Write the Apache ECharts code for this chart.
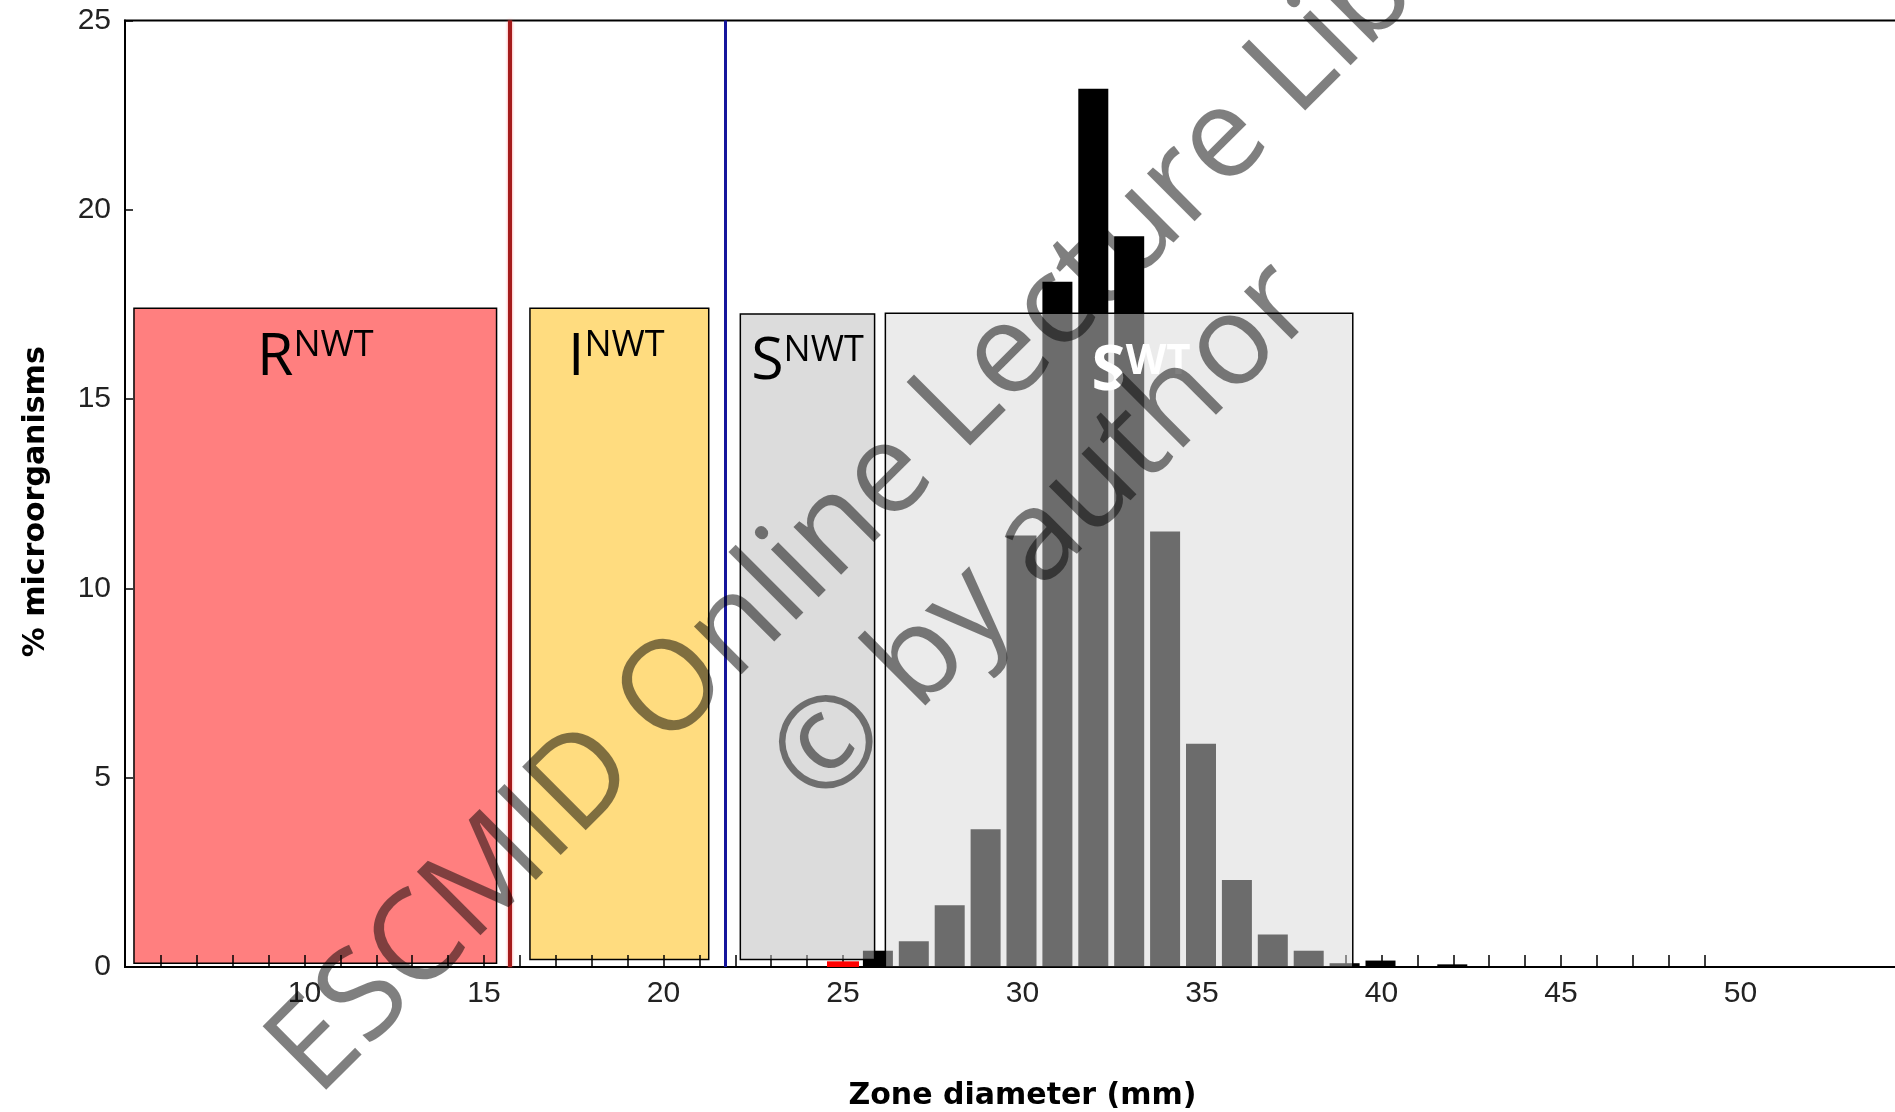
<!DOCTYPE html>
<html>
<head>
<meta charset="utf-8">
<title>Zone diameter distribution</title>
<script src="https://cdn.jsdelivr.net/npm/echarts@6.0.0/dist/echarts.min.js"></script>
<style>
  html, body { margin: 0; padding: 0; background: #fff; }
  #chart { width: 1895px; height: 1112px; }
</style>
</head>
<body>
<div id="chart"></div>
<script>
// histogram: zone diameter (mm) -> % of microorganisms
const diameters = [26, 27, 28, 29, 30, 31, 32, 33, 34, 35, 36, 37, 38, 39, 40, 42]
const percents = [0.43, 0.68, 1.63, 3.64, 11.4, 18.1, 23.2, 19.3, 11.5, 5.9, 2.3, 0.86, 0.43, 0.1, 0.17, 0.07]
const redDiameters = [25]
const redPercents = [0.15]

// breakpoint lines (mm)
const breakpointR = 15.75
const breakpointS = 21.75

// interpretation boxes
const boxNames = ['R', 'I', 'S', 'S']
const boxSups = ['NWT', 'NWT', 'NWT', 'WT']
const boxFrom = [5.25, 16.28, 22.14, 26.18]
const boxTo = [15.35, 21.26, 25.88, 39.2]
const boxBottom = [0.1, 0.2, 0.2, 0]
const boxTop = [17.4, 17.4, 17.25, 17.27]

// axis ticks
const xTickLabels = [10, 15, 20, 25, 30, 35, 40, 45, 50]
const xTicks = [6, 7, 8, 9, 10, 11, 12, 13, 14, 15, 16, 17, 18, 19, 20, 21, 22, 23, 24, 25, 26, 27,
  28, 29, 30, 31, 32, 33, 34, 35, 36, 37, 38, 39, 40, 41, 42, 43, 44, 45, 46, 47, 48, 49]

// box styles
const boxFill = ['#ff7f7f', '#ffdc7f', 'rgba(189,189,189,0.53)', 'rgba(215,215,215,0.5)']
const labelShift = [0, -3, 0, 22]
const labelTop = [20, 20, 19, 28]

const richNormal = {
  m: { fontFamily: 'Open Sans', fontSize: 59, fill: '#000', verticalAlign: 'top' },
  s: { fontFamily: 'Open Sans', fontSize: 36, fill: '#000', verticalAlign: 'top' }
}
const richBold = {
  m: { fontFamily: 'Open Sans', fontWeight: 'bold', fontSize: 62, fill: '#fff', verticalAlign: 'top' },
  s: { fontFamily: 'Open Sans', fontWeight: 'bold', fontSize: 42, fill: '#fff', verticalAlign: 'top' }
}

function renderBox(params, api) {
  const i = api.value(4)
  const lt = api.coord([api.value(0), api.value(3)])
  const rb = api.coord([api.value(1), api.value(2)])
  return {
    type: 'group',
    children: [
      {
        type: 'rect',
        shape: { x: lt[0], y: lt[1], width: rb[0] - lt[0], height: rb[1] - lt[1] },
        style: { fill: boxFill[i], stroke: '#000', lineWidth: 1.5 }
      },
      {
        type: 'text',
        x: (lt[0] + rb[0]) / 2 + labelShift[i],
        y: lt[1] + labelTop[i],
        style: {
          text: '{m|' + boxNames[i] + '}{s|' + boxSups[i] + '}',
          align: 'center',
          verticalAlign: 'top',
          rich: boxSups[i] === 'WT' ? richBold : richNormal
        }
      }
    ]
  }
}

function boxData(list) {
  return list.map(i => [boxFrom[i], boxTo[i], boxBottom[i], boxTop[i], i])
}

const chart = echarts.init(document.getElementById('chart'))
chart.setOption({
  animation: false,
  grid: {
    left: 125,
    top: 20.5,
    width: 1795,
    height: 946.5,
    show: true,
    borderColor: '#000',
    borderWidth: 2,
    outerBoundsMode: 'none'
  },
  xAxis: {
    type: 'value',
    min: 5,
    max: 55,
    z: 1.5,
    name: 'Zone diameter (mm)',
    nameLocation: 'middle',
    nameGap: 114,
    nameTextStyle: { fontFamily: 'DejaVu Sans', fontWeight: 'bold', fontSize: 30, color: '#000' },
    axisLine: { lineStyle: { color: '#000', width: 2 } },
    axisTick: { show: true, inside: true, length: 12, customValues: xTicks, lineStyle: { color: '#000', width: 1.5 } },
    axisLabel: { customValues: xTickLabels, margin: 12, fontFamily: 'Liberation Sans', fontSize: 30, color: '#222' },
    splitLine: { show: false }
  },
  yAxis: {
    type: 'value',
    min: 0,
    max: 25,
    interval: 5,
    z: 1.5,
    name: '% microorganisms',
    nameLocation: 'middle',
    nameGap: 74,
    nameRotate: 90,
    nameTextStyle: { fontFamily: 'DejaVu Sans', fontWeight: 'bold', fontSize: 30, color: '#000', padding: [0, 16, 0, 0] },
    axisLine: { show: true, lineStyle: { color: '#000', width: 2 } },
    axisTick: { show: true, inside: true, length: 8, lineStyle: { color: '#000', width: 1.5 } },
    axisLabel: { margin: 14, fontFamily: 'Liberation Sans', fontSize: 30, color: '#222' },
    splitLine: { show: false }
  },
  series: [
    {
      name: 'boxes',
      type: 'custom',
      z: 1,
      renderItem: renderBox,
      encode: { x: [0, 1], y: [2, 3] },
      data: boxData([0, 1])
    },
    {
      name: 'isolates',
      type: 'bar',
      z: 2,
      barWidth: 30,
      barGap: '-100%',
      itemStyle: { color: '#000' },
      data: diameters.map((d, i) => [d, percents[i]]),
      markLine: {
        silent: true,
        symbol: ['none', 'none'],
        label: { show: false },
        data: [
          { xAxis: breakpointR, lineStyle: { color: '#a51c1c', width: 4, type: 'solid', shadowColor: 'rgba(255,90,90,0.7)', shadowBlur: 3 } },
          { xAxis: breakpointS, lineStyle: { color: '#15159c', width: 3, type: 'solid' } }
        ]
      }
    },
    {
      name: 'red',
      type: 'bar',
      z: 2,
      barWidth: 32,
      barGap: '-100%',
      itemStyle: { color: '#ff0000' },
      data: redDiameters.map((d, i) => [d, redPercents[i]])
    },
    {
      name: 'overlay',
      type: 'custom',
      z: 3,
      renderItem: renderBox,
      encode: { x: [0, 1], y: [2, 3] },
      data: boxData([2, 3])
    }
  ],
  graphic: [
    {
      type: 'text',
      x: 292,
      y: 1073,
      rotation: Math.PI / 4,
      z: 100,
      silent: true,
      style: { text: 'ESCMID Online Lecture Library', fontFamily: 'Open Sans', fontSize: 126, fill: 'rgba(0,0,0,0.5)', align: 'left', verticalAlign: 'middle' }
    },
    {
      type: 'text',
      x: 795,
      y: 785,
      rotation: Math.PI / 4,
      z: 100,
      silent: true,
      style: { text: '© by author', fontFamily: 'Open Sans', fontSize: 126, fill: 'rgba(0,0,0,0.5)', align: 'left', verticalAlign: 'middle' }
    }
  ]
})
</script>
</body>
</html>
